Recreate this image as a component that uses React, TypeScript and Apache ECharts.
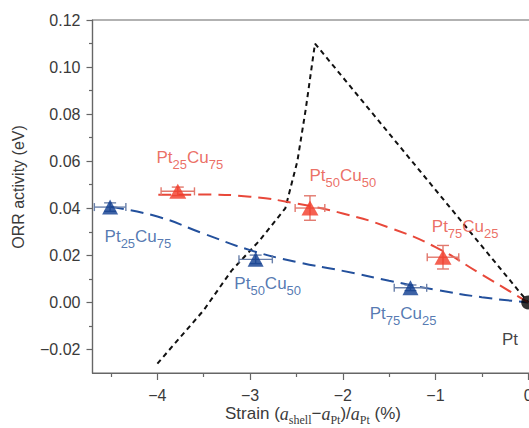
import React, { useEffect, useRef } from 'react';
import * as echarts from 'echarts';

// Axis ticks
const xTicks = [-4, -3, -2, -1, 0];
const xMinorTicks = [-4.5, -3.5, -2.5, -1.5, -0.5];
const yTicks = [-0.02, 0, 0.02, 0.04, 0.06, 0.08, 0.1, 0.12];
const yMinorTicks = [-0.01, 0.01, 0.03, 0.05, 0.07, 0.09, 0.11];

// [strain (%), ORR activity (eV), strain error, activity error]
const bluePoints = [
  [-4.51, 0.0405, 0.17, 0.0018],
  [-2.94, 0.0183, 0.18, 0.0018],
  [-1.27, 0.0062, 0.175, 0.0012],
];
const redPoints = [
  [-3.78, 0.0472, 0.18, 0.0018],
  [-2.354, 0.0401, 0.16, 0.0052],
  [-0.919, 0.0192, 0.17, 0.005],
];
const ptPoint = [[0, 0]];

// dashed guide curves
const blueCurve = [
  [-4.5, 0.0405], [-4.0, 0.0365], [-3.5, 0.0292], [-3.0, 0.0222], [-2.5, 0.0172],
  [-2.0, 0.0134], [-1.5, 0.0092], [-1.0, 0.0054], [-0.5, 0.0022], [0, 0],
];
const redCurve = [
  [-3.99, 0.0457], [-3.5, 0.0458], [-3.0, 0.0449], [-2.5, 0.042], [-2.0, 0.0378],
  [-1.5, 0.0318], [-1.0, 0.0235], [-0.5, 0.0118], [0, 0],
];
const blackCurve = [
  [-4.0, -0.026], [-3.5, -0.0033], [-3.2, 0.0135], [-2.9, 0.0262], [-2.62, 0.04],
  [-2.49, 0.06], [-2.4, 0.082], [-2.3, 0.11], [0, 0],
];

// labels: [main, sub, main, sub]
const redLabelText = [['Pt', '25', 'Cu', '75'], ['Pt', '50', 'Cu', '50'], ['Pt', '75', 'Cu', '25']];
const redLabelPos = [[-3.65, 0.061], [-2.0, 0.0534], [-0.68, 0.0315]];
const blueLabelText = [['Pt', '25', 'Cu', '75'], ['Pt', '50', 'Cu', '50'], ['Pt', '75', 'Cu', '25']];
const blueLabelPos = [[-4.21, 0.0272], [-2.81, 0.0072], [-1.35, -0.0053]];
const ptLabelText = [['Pt']];
const ptLabelPos = [[-0.196, -0.0162]];

const RED = '#f23a27';
const RED_LINE = '#e8483a';
const RED_TEXT = '#e64a3d';
const RED_ERR = '#e2786d';
const BLUE = '#0d3b8e';
const BLUE_LINE = '#23509c';
const BLUE_TEXT = '#2a579e';
const BLUE_ERR = '#6a80aa';
const AXIS = '#666666';
const TEXT = '#3a3a3a';
const SANS = '"Liberation Sans", Arial, Helvetica, sans-serif';
const SERIF = '"Liberation Serif", "Times New Roman", serif';

const X_MIN = -4.7;
const X_MAX = 0.3;
const PX_PER_UNIT = 92.7;

function richText(parts: string[]) {
  return parts.map((p, i) => (i % 2 === 0 ? `{a|${p}}` : `{s|${p}}`)).join('');
}

function labelRich(color: string) {
  return {
    a: { fontSize: 17, lineHeight: 20, verticalAlign: 'top', color, fontFamily: SANS },
    s: { fontSize: 13, lineHeight: 14, padding: [9, 0, 0, 0], verticalAlign: 'top', color, fontFamily: SANS },
  };
}

function labelSeries(pos: number[][], texts: string[][], color: string) {
  return {
    type: 'scatter',
    silent: true,
    symbolSize: 1,
    itemStyle: { color: 'rgba(0,0,0,0)' },
    z: 10,
    data: pos.map((p, i) => ({ value: p, name: richText(texts[i]) })),
    label: {
      show: true,
      position: 'inside',
      formatter: (pr: any) => pr.name,
      rich: labelRich(color),
    },
  };
}

function errRender(color: string) {
  return (params: any, api: any) => {
    const x = api.value(0);
    const y = api.value(1);
    const ex = api.value(2);
    const ey = api.value(3);
    const l = api.coord([x - ex, y]);
    const r = api.coord([x + ex, y]);
    const t = api.coord([x, y + ey]);
    const b = api.coord([x, y - ey]);
    const capH = 4;
    const capV = 6;
    const style = { stroke: color, lineWidth: 1.4, fill: 'none' };
    return {
      type: 'group',
      children: [
        { type: 'line', shape: { x1: l[0], y1: l[1], x2: r[0], y2: r[1] }, style },
        { type: 'line', shape: { x1: l[0], y1: l[1] - capH, x2: l[0], y2: l[1] + capH }, style },
        { type: 'line', shape: { x1: r[0], y1: r[1] - capH, x2: r[0], y2: r[1] + capH }, style },
        { type: 'line', shape: { x1: t[0], y1: t[1], x2: b[0], y2: b[1] }, style },
        { type: 'line', shape: { x1: t[0] - capV, y1: t[1], x2: t[0] + capV, y2: t[1] }, style },
        { type: 'line', shape: { x1: b[0] - capV, y1: b[1], x2: b[0] + capV, y2: b[1] }, style },
      ],
    };
  };
}

const fmtX = (v: number) => (v < -1e-9 ? '\u2212' : '') + String(Math.abs(Math.round(v)));
const fmtY = (v: number) => (v < -1e-9 ? '\u2212' : '') + Math.abs(v).toFixed(2);

export default function App() {
  const ref = useRef<HTMLDivElement>(null);

  useEffect(() => {
    const chart = echarts.init(ref.current!, null, { renderer: 'svg' });
    const option: any = {
      animation: false,
      backgroundColor: '#ffffff',
      grid: {
        left: 92.5,
        top: 20,
        width: PX_PER_UNIT * (X_MAX - X_MIN),
        height: 353,
        show: true,
        borderColor: AXIS,
        borderWidth: 1.2,
        backgroundColor: 'transparent',
        containLabel: false,
        outerBoundsMode: 'none',
      },
      xAxis: [
        {
          type: 'value',
          min: X_MIN,
          max: X_MAX,
          position: 'bottom',
          splitLine: { show: false },
          axisLine: { show: true, onZero: false, lineStyle: { color: AXIS, width: 1.2 } },
          axisTick: { show: true, customValues: xTicks, length: 7, lineStyle: { color: AXIS, width: 1.2 } },
          axisLabel: { show: true, customValues: xTicks, formatter: fmtX, margin: 14, fontSize: 16, color: TEXT, fontFamily: SANS },
        },
        {
          type: 'value',
          min: X_MIN,
          max: X_MAX,
          position: 'bottom',
          splitLine: { show: false },
          axisLine: { show: false, onZero: false },
          axisTick: { show: true, customValues: xMinorTicks, length: 4, lineStyle: { color: AXIS, width: 1.2 } },
          axisLabel: { show: false },
        },
      ],
      yAxis: [
        {
          type: 'value',
          min: -0.03,
          max: 0.12,
          position: 'left',
          splitLine: { show: false },
          axisLine: { show: true, onZero: false, lineStyle: { color: AXIS, width: 1.2 } },
          axisTick: { show: true, customValues: yTicks, length: 6, lineStyle: { color: AXIS, width: 1.2 } },
          axisLabel: { show: true, customValues: yTicks, formatter: fmtY, margin: 12, fontSize: 16, color: TEXT, fontFamily: SANS },
        },
        {
          type: 'value',
          min: -0.03,
          max: 0.12,
          position: 'left',
          splitLine: { show: false },
          axisLine: { show: false, onZero: false },
          axisTick: { show: true, customValues: yMinorTicks, length: 3.5, lineStyle: { color: AXIS, width: 1.2 } },
          axisLabel: { show: false },
        },
      ],
      graphic: [
        {
          type: 'text',
          x: 18,
          y: 187,
          rotation: Math.PI / 2,
          style: {
            text: 'ORR activity (eV)',
            fontSize: 16,
            fontFamily: SANS,
            fill: TEXT,
            align: 'center',
            verticalAlign: 'middle',
          },
        },
        {
          type: 'text',
          x: 313,
          y: 415,
          style: {
            text: '{n|Strain (}{i|a}{b|shell}{n|\u2212}{i|a}{b|Pt}{n|)/}{i|a}{b|Pt}{n| (%)}',
            align: 'center',
            verticalAlign: 'middle',
            rich: {
              n: { fontSize: 17, lineHeight: 20, verticalAlign: 'top', fontFamily: SANS, fill: TEXT, color: TEXT },
              i: { fontSize: 18, lineHeight: 20, verticalAlign: 'top', fontFamily: SERIF, fontStyle: 'italic', fill: TEXT, color: TEXT },
              b: { fontSize: 12, lineHeight: 12, padding: [9, 0, 0, 0], verticalAlign: 'top', fontFamily: SERIF, fill: TEXT, color: TEXT },
            },
          },
        },
      ],
      series: [
        {
          type: 'line',
          data: blackCurve,
          symbol: 'none',
          lineStyle: { color: '#111111', width: 2, type: [5, 4] },
          z: 2,
        },
        {
          type: 'line',
          data: blueCurve,
          symbol: 'none',
          smooth: 0.5,
          lineStyle: { color: BLUE_LINE, width: 2, type: [13, 7] },
          z: 2,
        },
        {
          type: 'line',
          data: redCurve,
          symbol: 'none',
          smooth: 0.5,
          lineStyle: { color: RED_LINE, width: 2, type: [13, 7] },
          z: 2,
        },
        {
          type: 'custom',
          data: bluePoints,
          encode: { x: 0, y: 1 },
          renderItem: errRender(BLUE_ERR),
          z: 3,
        },
        {
          type: 'custom',
          data: redPoints,
          encode: { x: 0, y: 1 },
          renderItem: errRender(RED_ERR),
          z: 3,
        },
        {
          type: 'scatter',
          data: bluePoints.map((p) => [p[0], p[1]]),
          symbol: 'triangle',
          symbolSize: [16, 15],
          itemStyle: { color: BLUE },
          z: 5,
        },
        {
          type: 'scatter',
          data: redPoints.map((p) => [p[0], p[1]]),
          symbol: 'triangle',
          symbolSize: [17, 15],
          itemStyle: { color: RED },
          z: 5,
        },
        {
          type: 'scatter',
          data: ptPoint,
          symbol: 'circle',
          symbolSize: 14,
          itemStyle: { color: '#000000' },
          z: 5,
        },
        labelSeries(redLabelPos, redLabelText, RED_TEXT),
        labelSeries(blueLabelPos, blueLabelText, BLUE_TEXT),
        labelSeries(ptLabelPos, ptLabelText, '#111111'),
      ],
    };
    chart.setOption(option);
    return () => chart.dispose();
  }, []);

  return (
    <div
      ref={ref}
      style={{ position: 'absolute', left: 0, top: 0, width: 529, height: 428, overflow: 'hidden' }}
    />
  );
}
